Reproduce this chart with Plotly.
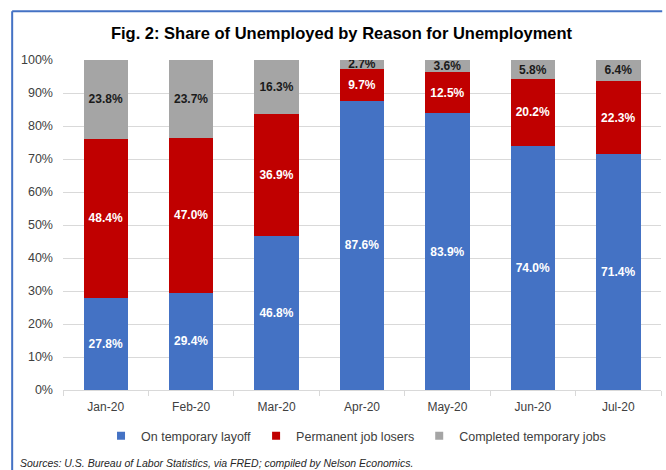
import plotly.graph_objects as go

months = ["Jan-20", "Feb-20", "Mar-20", "Apr-20", "May-20", "Jun-20", "Jul-20"]
temp_layoff = [27.8, 29.4, 46.8, 87.6, 83.9, 74.0, 71.4]
perm_losers = [48.4, 47.0, 36.9, 9.7, 12.5, 20.2, 22.3]
completed_temp = [23.8, 23.7, 16.3, 2.7, 3.6, 5.8, 6.4]
y_ticks = list(range(0, 101, 10))
y_tick_labels = [f"{v}%" for v in y_ticks]

series = [
    ("On temporary layoff", temp_layoff, "#4472C4", "white"),
    ("Permanent job losers", perm_losers, "#C00000", "white"),
    ("Completed temporary jobs", completed_temp, "#A5A5A5", "#1a1a1a"),
]

FONT = "Liberation Sans, Arial, sans-serif"

fig = go.Figure()
for name, vals, color, tcolor in series:
    fig.add_trace(go.Bar(
        name=name, x=months, y=vals, showlegend=False,
        marker=dict(color=color, line=dict(width=0)),
        text=[f"{v:.1f}%" for v in vals],
        textposition="inside", insidetextanchor="middle",
        textfont=dict(color=tcolor, size=12, family=FONT, weight="bold"),
        hoverinfo="skip",
    ))
# legend entries with small square keys
for name, vals, color, tcolor in series:
    fig.add_trace(go.Scatter(
        name=name, x=[None], y=[None], mode="markers",
        marker=dict(symbol="square", size=8, color=color), showlegend=True,
    ))

fig.update_layout(
    barmode="stack",
    width=666, height=470,
    margin=dict(l=63, r=5, t=60, b=80),
    paper_bgcolor="white", plot_bgcolor="white",
    bargap=0.48,
    uniformtext=dict(minsize=12, mode="show"),
    font=dict(family=FONT, size=12, color="#404040"),
    title=dict(text="<b>Fig. 2: Share of Unemployed by Reason for Unemployment</b>",
               x=341.5 / 666, xref="container", xanchor="center", y=0.93, yanchor="middle",
               font=dict(size=16.5, color="black", family=FONT)),
    legend=dict(orientation="h", x=0.49, xanchor="center", y=-0.14, yanchor="middle",
                font=dict(size=12.5, color="#404040"), traceorder="normal",
                itemwidth=30),
    showlegend=True,
)
fig.update_xaxes(
    type="category", showgrid=False, showline=True, linecolor="#D9D9D9", linewidth=1,
    ticks="outside", tickson="boundaries", ticklen=5, tickcolor="#D9D9D9",
    tickfont=dict(size=12, color="#404040"), ticklabelstandoff=6, fixedrange=True,
)
fig.update_yaxes(
    range=[0, 100], tickvals=y_ticks, ticktext=y_tick_labels,
    showgrid=True, gridcolor="#D9D9D9", gridwidth=1, zeroline=False,
    tickfont=dict(size=12.5, color="#404040"), ticks="", showline=False,
    ticklabelstandoff=9,
)

# chart frame (top and left edges visible)
fig.add_shape(type="line", xref="paper", yref="paper", x0=-0.085, x1=1.002, y0=1.148, y1=1.148,
              line=dict(color="#4472C4", width=2))
fig.add_shape(type="line", xref="paper", yref="paper", x0=-0.085, x1=-0.085, y0=1.148, y1=-0.3,
              line=dict(color="#4472C4", width=2))

fig.add_annotation(
    text="<i>Sources: U.S. Bureau of Labor Statistics, via FRED; compiled by Nelson Economics.</i>",
    xref="paper", yref="paper", x=-0.076, y=-0.222, xanchor="left", yanchor="middle",
    showarrow=False, font=dict(size=10.5, color="#262626", family=FONT),
)

fig.write_html("out.html")
